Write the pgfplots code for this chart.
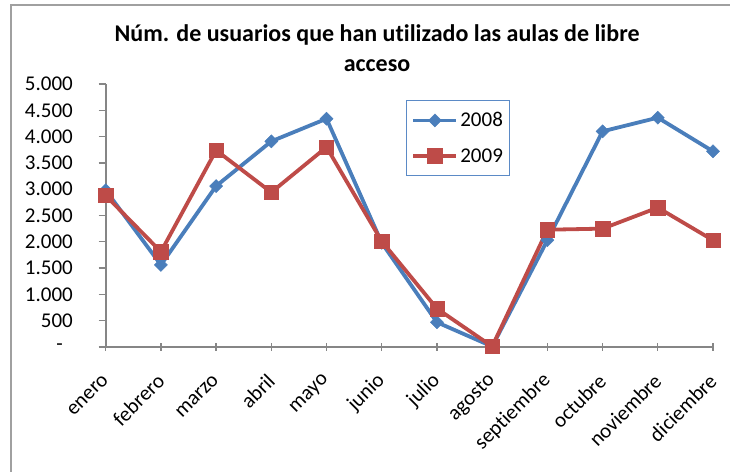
\documentclass[border=0pt]{standalone}
\usepackage{fontspec}
\setmainfont{Carlito}[Ligatures=NoCommon]
\usepackage{pgfplots}
\pgfplotsset{compat=1.18}
\definecolor{serA}{HTML}{4A7EBB}
\definecolor{serB}{HTML}{BE4B48}
\definecolor{axgray}{HTML}{868686}
\definecolor{framegray}{HTML}{A0A0A0}
\definecolor{legblue}{HTML}{5B8AC6}
\begin{document}
\begin{tikzpicture}
\useasboundingbox (0,0) rectangle (730bp,472bp);
\draw[framegray, line width=1.5bp] (11bp,0bp) -- (11bp,467bp) -- (730bp,467bp);
\node[anchor=base, inner sep=0pt, font=\bfseries\fontsize{24bp}{30bp}\selectfont] at (377bp,430bp) {Núm. de usuarios que han utilizado las aulas de libre};
\node[anchor=base, inner sep=0pt, font=\bfseries\fontsize{24bp}{30bp}\selectfont] at (377bp,400bp) {acceso};
\begin{axis}[
  at={(105.7bp,125bp)}, anchor=south west,
  scale only axis, width=607.3bp, height=263bp,
  xmin=0, xmax=11, ymin=0, ymax=5000,
  clip=false,
  axis x line=bottom, axis y line=left,
  axis line style={-, draw=axgray, line width=1.6bp},
  tick style={draw=axgray, line width=1.3bp},
  major tick length=7bp,
  xtick align=center, ytick align=outside,
  xtick={0,1,2,3,4,5,6,7,8,9,10,11},
  xticklabels={enero,febrero,marzo,abril,mayo,junio,julio,agosto,septiembre,octubre,noviembre,diciembre},
  ytick={0,500,1000,1500,2000,2500,3000,3500,4000,4500,5000},
  yticklabels={-\kern10bp,500,1.000,1.500,2.000,2.500,3.000,3.500,4.000,4.500,5.000},
  tick label style={font=\fontsize{21bp}{25bp}\selectfont},
  /pgf/number format/assume math mode=true,
  yticklabel style={anchor=east, inner sep=0pt},
  yticklabel shift=25.7bp,
  xticklabel style={rotate=45, anchor=east, inner sep=0pt},
  xticklabel shift=27bp,
  legend style={at={(0.4945,0.939)}, anchor=north west, draw=legblue, line width=1bp,
    font=\fontsize{21bp}{25bp}\selectfont, inner xsep=5bp, inner ysep=10bp, row sep=16bp,
    nodes={inner xsep=2bp, inner ysep=2bp}},
  legend cell align=left,
  legend image code/.code={\draw[mark repeat=2,mark phase=2] plot coordinates {(0bp,0bp)(21.5bp,0bp)(43bp,0bp)};},
]
\addplot[serA, line width=3.8bp, mark=square*, mark size=4.6bp, mark options={rotate=45, line width=0.5bp}]
  coordinates {(0,2980)(1,1560)(2,3060)(3,3910)(4,4340)(5,1980)(6,470)(7,10)(8,2030)(9,4100)(10,4360)(11,3720)};
\addlegendentry{2008}
\addplot[serB, line width=3.8bp, mark=square*, mark size=7.2bp, mark options={line width=0.5bp}]
  coordinates {(0,2880)(1,1810)(2,3740)(3,2940)(4,3800)(5,2010)(6,730)(7,10)(8,2230)(9,2250)(10,2650)(11,2030)};
\addlegendentry{2009}
\end{axis}
\end{tikzpicture}
\end{document}
